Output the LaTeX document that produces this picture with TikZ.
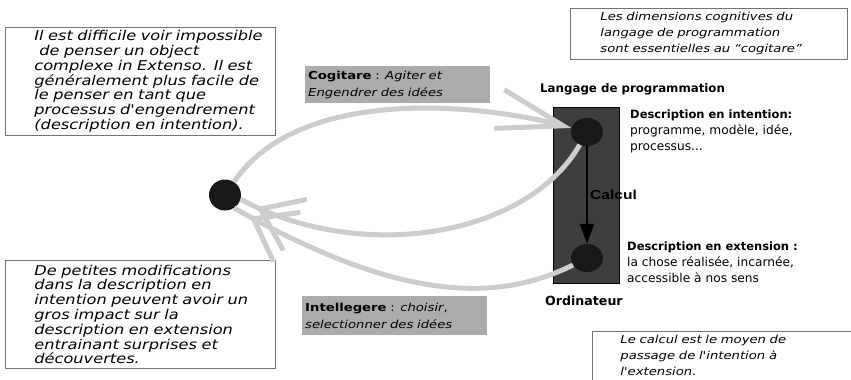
\documentclass[tikz,border=0pt]{standalone}
\usepackage{fontspec}
\setmainfont{DejaVu Sans}
\newfontfamily\notefont[FakeStretch=1.2]{DejaVu Sans}
\newfontfamily\calcfont[FakeStretch=1.2]{Liberation Sans}
\usetikzlibrary{arrows.meta,shapes.geometric,decorations.markings}
\definecolor{flowgray}{RGB}{205,205,205}
\definecolor{taggray}{RGB}{172,172,172}
\definecolor{machinegray}{RGB}{62,62,62}
\definecolor{dotblack}{RGB}{24,24,24}
\tikzset{
  note/.style={draw=black!55, line width=0.8pt, anchor=north west, inner xsep=0pt,
    inner ysep=3pt, align=left, font=\notefont\fontsize{13.5}{14.8}\selectfont\itshape},
  smallnote/.style={note, inner ysep=4pt, font=\notefont\fontsize{11}{16}\selectfont\itshape},
  tag/.style={fill=taggray, anchor=north west, inner sep=3pt, align=left,
    text width=179pt, font=\notefont\fontsize{11}{17}\selectfont},
  label/.style={anchor=north west, inner sep=0pt, align=left,
    font=\fontsize{12.2}{16}\selectfont},
  head/.style={font=\fontsize{11.8}{14}\selectfont\bfseries},
  dot/.style={ellipse, fill=dotblack, inner sep=0pt, minimum width=32pt, minimum height=28pt},
  flow/.style={draw=flowgray, line width=5pt},
  barbnear/.style={postaction={decorate}, decoration={markings,
    mark=at position -18pt with {\arrow[flowgray, line width=5pt]{Straight Barb[length=38pt, width=56pt]}}}}
}
\begin{document}
\begin{tikzpicture}[x=1pt, y=-1pt]
  \useasboundingbox (0,0) rectangle (851,380);
  % notes
  \node[note, text width=270pt, minimum height=105pt] (difficile) at (5,27) {\leftskip=29pt
    Il est difficile voir impossible\\
    \hspace*{5pt}de penser un object\\
    complexe in Extenso. Il est\\
    généralement plus facile de\\
    le penser en tant que\\
    processus d'engendrement\\
    (description en intention).\par};
  \node[note, inner ysep=4pt, text width=270pt, minimum height=108pt] (surprises) at (5,260) {\leftskip=29pt
    De petites modifications\\
    dans la description en\\
    intention peuvent avoir un\\
    gros impact sur la\\
    description en extension\\
    entrainant surprises et\\
    découvertes.\par};
  \node[smallnote, text width=277pt] (dimensions) at (570,8) {\leftskip=30pt
    Les dimensions cognitives du\\
    langage de programmation\\
    sont essentielles au “cogitare”\par};
  \node[smallnote, text width=262pt] (passage) at (592,331) {\leftskip=28pt
    Le calcul est le moyen de\\
    passage de l'intention à\\
    l'extension.\par};
  % tags
  \node[tag, minimum height=37pt] (cogitare) at (305,66) {\textbf{Cogitare} : \textit{Agiter et}\\ \textit{Engendrer des idées}};
  \node[tag, minimum height=39pt] (intellegere) at (302,296) {\textbf{Intellegere} : \textit{choisir},\\ \textit{selectionner des idées}};
  % machine
  \node[draw=black, line width=1.5pt, fill=machinegray, minimum width=66pt, minimum height=176pt] (machine) at (586.5,195.5) {};
  \node[head, anchor=base west, inner sep=0pt] (langage) at (540,92) {Langage de programmation};
  \node[head, anchor=base west, inner sep=0pt, font=\fontsize{12.6}{14}\selectfont\bfseries] (ordinateur) at (545,305) {Ordinateur};
  \node[dot] (intent) at (587,132) {};
  \node[dot] (extent) at (587,258) {};
  \node[dot, minimum width=32pt, minimum height=31pt] (idea) at (225,195) {};
  \node[label] (intention) at (630,110) {{\fontsize{11.5}{16}\selectfont\bfseries Description en intention:}\\ programme, modèle, idée,\\ processus...};
  \node[label] (extension) at (627,242) {{\fontsize{11.5}{16}\selectfont\bfseries Description en extension :}\\ la chose réalisée, incarnée,\\ accessible à nos sens};
  % calcul
  \draw[line width=2pt, -{Triangle[length=20pt, width=14pt]}] (intent) -- (extent);
  \node[anchor=base west, inner sep=0pt, font=\calcfont\fontsize{13}{15}\selectfont\bfseries] (calcul) at (590,199) {Calcul};
  % flows
  \draw[flow, -{Straight Barb[length=66pt, width=40pt]}] (idea) .. controls +(75,-110) and +(-107,-28) .. (intent);
  \draw[flow, barbnear] (intent) .. controls +(-60,105) and +(120,65) .. (idea.-15);
  \draw[flow, barbnear] (extent) .. controls +(-100,50) and +(150,85) .. (idea.-55);
\end{tikzpicture}
\end{document}
